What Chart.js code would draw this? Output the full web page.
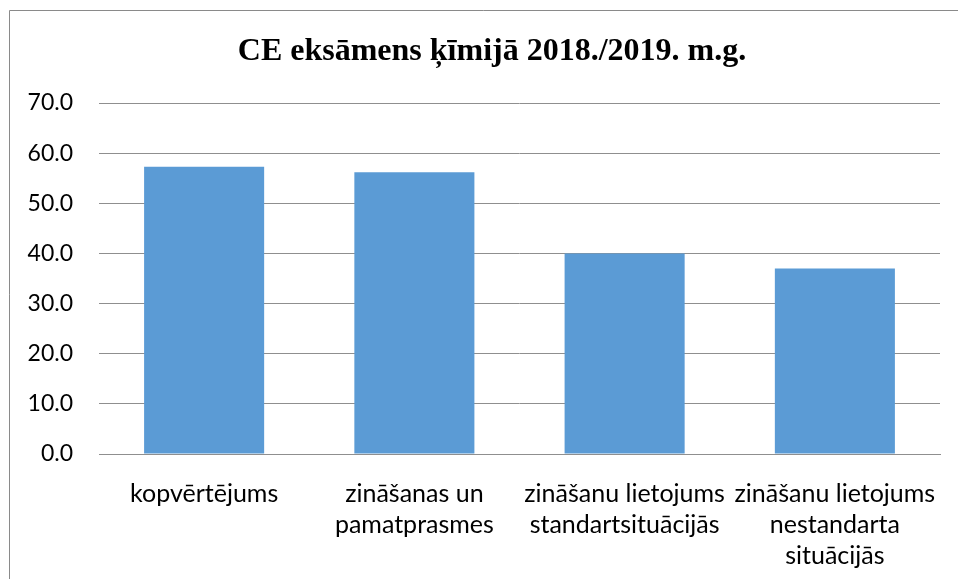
<!DOCTYPE html>
<html>
<head>
<meta charset="utf-8">
<script src="https://cdn.jsdelivr.net/npm/chart.js@4/dist/chart.umd.min.js"></script>
<style>
  html, body { margin: 0; padding: 0; background: #fff; }
  #wrap { position: relative; width: 958px; height: 579px; }
</style>
</head>
<body>
<div id="wrap"><canvas id="c" width="958" height="579"></canvas></div>
<script>
const chartTitle = 'CE eksāmens ķīmijā 2018./2019. m.g.';
const categories = [
  ['kopvērtējums'],
  ['zināšanas un', 'pamatprasmes'],
  ['zināšanu lietojums', 'standartsituācijās'],
  ['zināšanu lietojums', 'nestandarta', 'situācijās']
];
const scores = [57.3, 56.2, 40.0, 37.0];
const yTicks = { min: 0, max: 70, step: 10 };

// The chart box starts at x = 9 and runs on past the right edge of the page.
const BOX_LEFT = 9;
const BOX_RIGHT = 975;

// thin frame along the left and top edges of the chart box
const framePlugin = {
  id: 'frame',
  beforeDraw(chart) {
    const ctx = chart.ctx;
    ctx.save();
    ctx.strokeStyle = '#8a8a8a';
    ctx.lineWidth = 1;
    ctx.beginPath();
    ctx.moveTo(BOX_LEFT + 0.5, chart.height);
    ctx.lineTo(BOX_LEFT + 0.5, 10.5);
    ctx.lineTo(chart.width, 10.5);
    ctx.stroke();
    ctx.restore();
  }
};

// centre the title over the whole chart box rather than the canvas
const centreTitlePlugin = {
  id: 'centreTitle',
  afterLayout(chart) {
    const t = chart.titleBlock;
    if (t) { t.left = BOX_LEFT; t.right = BOX_RIGHT; }
  }
};

new Chart(document.getElementById('c'), {
  type: 'bar',
  data: {
    labels: categories,
    datasets: [{
      data: scores,
      backgroundColor: '#5b9bd5',
      borderWidth: 0,
      barPercentage: 1,
      categoryPercentage: 0.571
    }]
  },
  options: {
    responsive: false,
    animation: false,
    devicePixelRatio: 1,
    layout: { padding: { left: 0, right: 18, top: 0, bottom: 0 } },
    plugins: {
      legend: { display: false },
      tooltip: { enabled: false },
      title: {
        display: true,
        text: chartTitle,
        color: '#000',
        font: { family: 'Liberation Serif', size: 32, weight: 'bold', lineHeight: 1.2 },
        padding: { top: 33, bottom: 31.6 }
      }
    },
    scales: {
      x: {
        grid: { display: false },
        border: { display: true, color: '#8f8f8f' },
        ticks: {
          color: '#000',
          font: { family: 'Lato', size: 25, lineHeight: 1.25 },
          maxRotation: 0,
          minRotation: 0,
          autoSkip: false,
          padding: 16
        },
        afterFit(scale) { scale.height = 125; }
      },
      y: {
        min: yTicks.min,
        max: yTicks.max,
        grid: { color: '#8f8f8f', drawTicks: false },
        border: { display: false },
        ticks: {
          stepSize: yTicks.step,
          color: '#000',
          font: { family: 'Lato', size: 23 },
          padding: 26,
          callback: v => Number(v).toFixed(1)
        },
        afterFit(scale) { scale.width = 99; }
      }
    }
  },
  plugins: [framePlugin, centreTitlePlugin]
});
</script>
</body>
</html>
